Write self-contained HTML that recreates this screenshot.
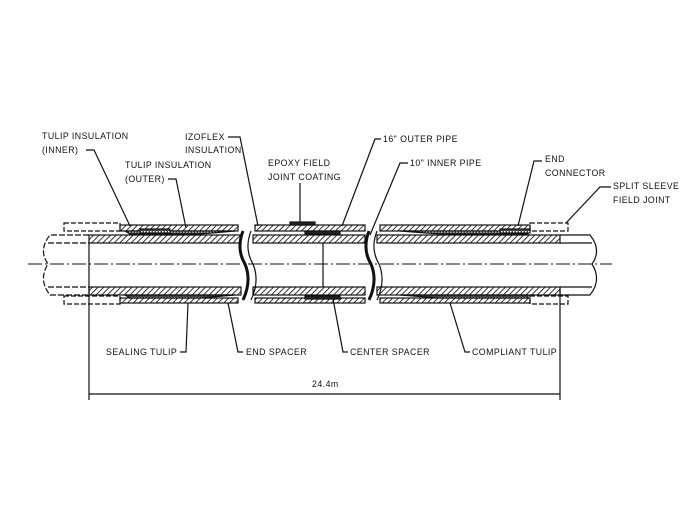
<!DOCTYPE html>
<html><head><style>
html,body{margin:0;padding:0;background:#fff;}
svg{display:block;}
text{font-family:"Liberation Sans",sans-serif;font-size:8.8px;fill:#111;letter-spacing:0.45px;}
</style></head><body>
<svg width="697" height="526" viewBox="0 0 697 526" xmlns="http://www.w3.org/2000/svg">
<defs>
<pattern id="h" width="4" height="4" patternUnits="userSpaceOnUse" patternTransform="rotate(45)">
<rect width="4" height="4" fill="#fff"/><line x1="0" y1="0" x2="0" y2="4" stroke="#111" stroke-width="1.7"/>
</pattern>
<pattern id="d" width="3" height="3" patternUnits="userSpaceOnUse">
<rect width="3" height="3" fill="#444"/><rect width="1.5" height="1.5" fill="#fff"/>
</pattern>
</defs>
<g stroke="#111" fill="none" stroke-width="1.2">
<line x1="28" y1="264" x2="612" y2="264" stroke-dasharray="14,3,2,3" stroke-width="0.9"/>
<rect x="89" y="235" width="152" height="8" fill="url(#h)"/>
<rect x="89" y="287" width="152" height="8" fill="url(#h)"/>
<rect x="253" y="235" width="112" height="8" fill="url(#h)"/>
<rect x="253" y="287" width="112" height="8" fill="url(#h)"/>
<rect x="377" y="235" width="183" height="8" fill="url(#h)"/>
<rect x="377" y="287" width="183" height="8" fill="url(#h)"/>
<rect x="120" y="225" width="118" height="6" fill="url(#h)"/>
<rect x="120" y="298" width="118" height="5" fill="url(#h)"/>
<rect x="255" y="225" width="110" height="6" fill="url(#h)"/>
<rect x="255" y="298" width="110" height="5" fill="url(#h)"/>
<rect x="380" y="225" width="150" height="6" fill="url(#h)"/>
<rect x="380" y="298" width="150" height="5" fill="url(#h)"/>
<polygon points="125,231 235,231 200,234 130,234" fill="url(#d)"/>
<polygon points="125,295 235,295 200,298 130,298" fill="url(#d)"/>
<polygon points="400,231 528,231 528,234 440,234" fill="url(#d)"/>
<polygon points="400,295 528,295 528,298 440,298" fill="url(#d)"/>
<rect x="140" y="229" width="30" height="4" fill="url(#d)"/>
<rect x="500" y="229" width="30" height="4" fill="url(#d)"/>
<rect x="290" y="222" width="25" height="3" fill="#222"/>
<rect x="305" y="231" width="35" height="3" fill="#222"/>
<rect x="305" y="296" width="35" height="3" fill="#222"/>
<line x1="323" y1="243" x2="323" y2="287"/>
<rect x="64" y="223" width="56" height="8" stroke-dasharray="5,2"/>
<rect x="64" y="296" width="56" height="8" stroke-dasharray="5,2"/>
<rect x="530" y="223" width="38" height="8" stroke-dasharray="5,2"/>
<rect x="530" y="296" width="38" height="8" stroke-dasharray="5,2"/>
<path d="M89,235 L50,235 Q38,250 48,264 Q38,280 50,295 L89,295" stroke-dasharray="6,2"/>
<line x1="48" y1="243" x2="89" y2="243" stroke-dasharray="6,2"/>
<line x1="48" y1="287" x2="89" y2="287" stroke-dasharray="6,2"/>
<path d="M560,235 L590,235 Q602,250 592,264 Q602,280 590,295 L560,295"/>
<line x1="560" y1="243" x2="592" y2="243"/>
<line x1="560" y1="287" x2="592" y2="287"/>
<path d="M243,231 Q236,249 245,264 Q252,281 243,300" stroke-width="3"/>
<path d="M251,231 Q244,249 253,264 Q260,281 251,300"/>
<path d="M369,231 Q362,249 371,264 Q378,281 369,300" stroke-width="3"/>
<path d="M377,231 Q370,249 379,264 Q386,281 377,300"/>
<line x1="89" y1="243" x2="89" y2="400"/>
<line x1="560" y1="287" x2="560" y2="400"/>
<line x1="89" y1="394" x2="560" y2="394"/>
<polyline points="86,150 94,150 130,226"/>
<polyline points="168,179 176,179 186,228"/>
<polyline points="228,137 240,137 258,226"/>
<line x1="300" y1="183" x2="300" y2="222"/>
<polyline points="381,139 375,139 342,226"/>
<polyline points="408,163 400,163 370,235"/>
<polyline points="542,161 534,161 518,226"/>
<polyline points="611,187 600,187 566,223"/>
<polyline points="180,352 186,352 188,303"/>
<polyline points="243,352 238,352 228,303"/>
<polyline points="348,352 343,352 333,299"/>
<polyline points="470,352 465,352 450,303"/>
</g>
<text x="42" y="139">TULIP INSULATION</text>
<text x="42" y="153">(INNER)</text>
<text x="125" y="168">TULIP INSULATION</text>
<text x="125" y="182">(OUTER)</text>
<text x="185" y="140">IZOFLEX</text>
<text x="185" y="153">INSULATION</text>
<text x="268" y="166">EPOXY FIELD</text>
<text x="268" y="180">JOINT COATING</text>
<text x="383" y="142">16" OUTER PIPE</text>
<text x="410" y="166">10" INNER PIPE</text>
<text x="545" y="162">END</text>
<text x="545" y="176">CONNECTOR</text>
<text x="613" y="189">SPLIT SLEEVE</text>
<text x="613" y="203">FIELD JOINT</text>
<text x="106" y="355">SEALING TULIP</text>
<text x="246" y="355">END SPACER</text>
<text x="350" y="355">CENTER SPACER</text>
<text x="472" y="355">COMPLIANT TULIP</text>
<text x="312" y="387">24.4m</text>
</svg>
</body></html>
